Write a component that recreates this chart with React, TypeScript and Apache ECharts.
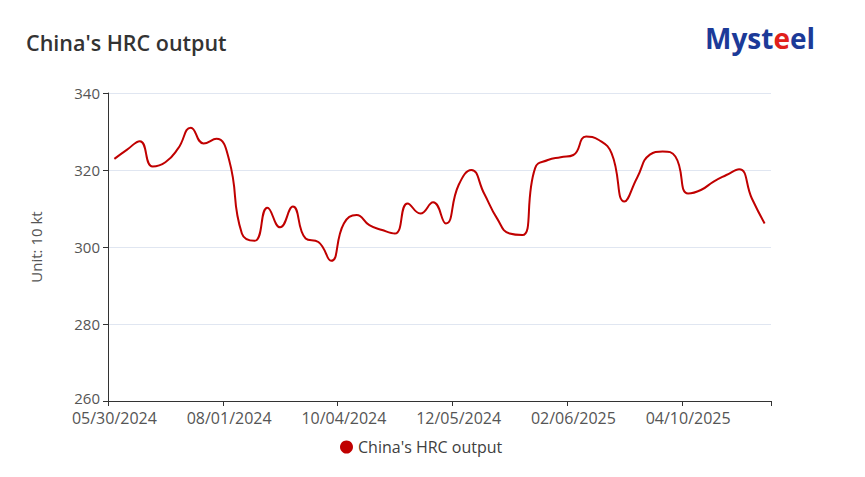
import React, { useEffect, useRef } from "react";
import * as echarts from "echarts";

const TITLE = "China's HRC output";
const SERIES_NAME = "China's HRC output";
const Y_NAME = "Unit: 10 kt";

const dates: string[] = [
  "05/30/2024", "06/06/2024", "06/13/2024", "06/20/2024", "06/27/2024", "07/04/2024",
  "07/11/2024", "07/18/2024", "07/25/2024", "08/01/2024", "08/08/2024", "08/15/2024",
  "08/22/2024", "08/29/2024", "09/05/2024", "09/12/2024", "09/19/2024", "09/26/2024",
  "10/04/2024", "10/10/2024", "10/17/2024", "10/24/2024", "10/31/2024", "11/07/2024",
  "11/14/2024", "11/21/2024", "11/28/2024", "12/05/2024", "12/12/2024", "12/19/2024",
  "12/26/2024", "01/02/2025", "01/09/2025", "01/16/2025", "01/23/2025", "01/30/2025",
  "02/06/2025", "02/13/2025", "02/20/2025", "02/27/2025", "03/06/2025", "03/13/2025",
  "03/20/2025", "03/27/2025", "04/03/2025", "04/10/2025", "04/17/2025", "04/24/2025",
  "05/01/2025", "05/08/2025", "05/15/2025", "05/22/2025",
];

const output: number[] = [
  322.9, 325.3, 327.5, 320.9, 322.0, 325.6, 331.0, 326.9, 328.1, 322.6,
  303.5, 301.6, 310.2, 305.1, 310.5, 302.2, 301.3, 296.4, 306.1, 308.3,
  305.7, 304.4, 303.5, 311.3, 308.7, 311.6, 306.1, 316.1, 320.0, 313.9,
  307.5, 303.5, 303.1, 320.5, 322.6, 323.3, 323.9, 328.7, 327.8, 324.3,
  311.8, 318.0, 324.0, 324.8, 323.5, 313.9, 314.8, 317.0, 318.7, 320.2,
  312.6, 306.1,
];

const Y_MIN = 260;
const Y_MAX = 340;
const Y_STEP = 20;

export default function App() {
  const ref = useRef<HTMLDivElement>(null);

  useEffect(() => {
    document.body.style.margin = "0";
    if (!ref.current) return;
    const chart = echarts.init(ref.current, undefined, { renderer: "svg" });
    const font = "'Open Sans', 'Noto Sans', sans-serif";
    chart.setOption({
      animation: false,
      backgroundColor: "#ffffff",
      title: {
        text: TITLE,
        left: 21,
        top: 26,
        textStyle: {
          fontFamily: font,
          fontSize: 21.5,
          fontWeight: 600,
          color: "#333333",
        },
      },
      graphic: [
        {
          type: "text",
          left: 705,
          top: 24,
          style: {
            text: "{b|Myst}{r|e}{b|el}",
            rich: {
              b: {
                fontFamily: font,
                fontSize: 28,
                fontWeight: 700,
                fill: "#1C3A98",
              },
              r: {
                fontFamily: font,
                fontSize: 28,
                fontWeight: 700,
                fill: "#E0201B",
              },
            },
          },
        },
      ],
      legend: {
        left: 335,
        top: 434,
        icon: "circle",
        itemWidth: 13,
        itemHeight: 13,
        itemGap: 10,
        textStyle: {
          fontFamily: font,
          fontSize: 16,
          color: "#404040",
        },
        data: [SERIES_NAME],
      },
      grid: {
        left: 108,
        right: 94,
        top: 93,
        bottom: 76,
        containLabel: false,
      },
      xAxis: {
        type: "category",
        data: dates,
        boundaryGap: true,
        axisLine: { show: true, lineStyle: { color: "#333333", width: 1 } },
        axisTick: { show: true, length: 5, interval: 8, lineStyle: { color: "#333333" } },
        axisLabel: {
          interval: 8,
          fontFamily: font,
          fontSize: 16,
          lineHeight: 16,
          color: "#555555",
          margin: 9,
        },
        splitLine: { show: false },
      },
      yAxis: {
        type: "value",
        min: Y_MIN,
        max: Y_MAX,
        interval: Y_STEP,
        name: Y_NAME,
        nameLocation: "middle",
        nameGap: 65,
        nameTextStyle: {
          fontFamily: font,
          fontSize: 15,
          color: "#555555",
        },
        axisLine: { show: true, lineStyle: { color: "#333333", width: 1 } },
        axisTick: { show: true, length: 5, lineStyle: { color: "#333333" } },
        axisLabel: {
          fontFamily: font,
          fontSize: 15,
          lineHeight: 10,
          color: "#555555",
          margin: 8,
          formatter: (v: number) => (v === Y_MIN ? `{low|${v}}` : `${v}`),
          rich: {
            low: {
              fontFamily: font,
              fontSize: 15,
              lineHeight: 10,
              color: "#555555",
              padding: [0, 0, 7, 0],
            },
          },
        },
        splitLine: { show: true, lineStyle: { color: "#E0E6F1", width: 1 } },
      },
      series: [
        {
          name: SERIES_NAME,
          type: "line",
          data: output,
          smooth: true,
          showSymbol: false,
          symbol: "circle",
          lineStyle: { color: "#C00000", width: 2 },
          itemStyle: { color: "#C00000" },
        },
      ],
    });
    return () => chart.dispose();
  }, []);

  return <div ref={ref} style={{ width: 865, height: 477 }} />;
}
